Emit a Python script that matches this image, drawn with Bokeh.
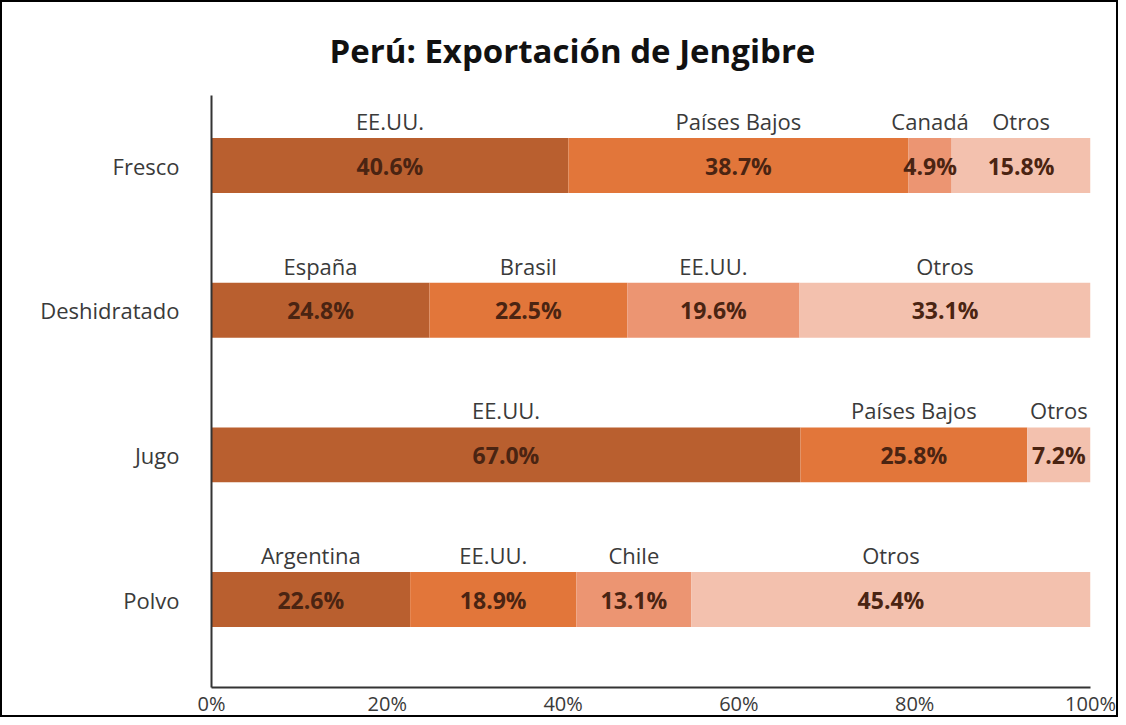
from bokeh.plotting import figure
from bokeh.models import ColumnDataSource, FixedTicker, Range1d, NumeralTickFormatter, Title
from bokeh.core.properties import value
from bokeh.embed import file_html
from bokeh.resources import INLINE

categories = ["Fresco", "Deshidratado", "Jugo", "Polvo"]
fresco_paises = ["EE.UU.", "Países Bajos", "Canadá", "Otros"]
fresco_pct = [40.6, 38.7, 4.9, 15.8]
deshidratado_paises = ["España", "Brasil", "EE.UU.", "Otros"]
deshidratado_pct = [24.8, 22.5, 19.6, 33.1]
jugo_paises = ["EE.UU.", "Países Bajos", "Otros"]
jugo_pct = [67.0, 25.8, 7.2]
polvo_paises = ["Argentina", "EE.UU.", "Chile", "Otros"]
polvo_pct = [22.6, 18.9, 13.1, 45.4]
x_ticks = [0, 0.2, 0.4, 0.6, 0.8, 1.0]

palette = ["#B95F2F", "#E2763A", "#EC9572", "#F3C1AE"]
FONT = "Open Sans"

series = [(fresco_paises, fresco_pct), (deshidratado_paises, deshidratado_pct),
          (jugo_paises, jugo_pct), (polvo_paises, polvo_pct)]
ypos = {c: len(categories) - 1 - i for i, c in enumerate(categories)}
BAR_H = 0.38

rows = dict(y=[], left=[], right=[], mid=[], top=[], color=[], pais=[], pct=[])
for cat, (paises, pcts) in zip(categories, series):
    acc = 0.0
    for j, (pa, pc) in enumerate(zip(paises, pcts)):
        l = acc / 100.0
        r = (acc + pc) / 100.0
        acc += pc
        rows["y"].append(ypos[cat])
        rows["left"].append(l)
        rows["right"].append(r)
        rows["mid"].append((l + r) / 2)
        rows["top"].append(ypos[cat] + BAR_H / 2)
        rows["color"].append(palette[3] if pa == "Otros" else palette[j])
        rows["pais"].append(pa)
        rows["pct"].append(f"{pc:.1f}%")
src = ColumnDataSource(rows)

p = figure(width=1118, height=717, output_backend="svg", toolbar_location=None,
           x_range=Range1d(0, 1), y_range=Range1d(-0.608, 3.484),
           min_border_left=209, min_border_right=30, min_border_top=93, min_border_bottom=10)
p.styles = {"border": "2px solid #000", "box-sizing": "border-box"}

p.hbar(y="y", left="left", right="right", height=BAR_H, color="color", line_color=None, source=src)
p.text(x="mid", y="top", text="pais", source=src, text_align="center", text_baseline="bottom",
       y_offset=-2, text_font=value(FONT), text_font_size="22px", text_color="#3a3a3a")
p.text(x="mid", y="y", text="pct", source=src, text_align="center", text_baseline="middle",
       text_font=value(FONT), text_font_size="23px", text_font_style="bold", text_color="#4a2412")

title = Title(text="Perú: Exportación de Jengibre", align="left", offset=118,
              text_font=FONT, text_font_size="33px", text_font_style="bold", text_color="#111111",
              standoff=46)
p.add_layout(title, "above")

p.xgrid.visible = False
p.ygrid.visible = False
p.outline_line_color = None

for ax in (p.xaxis, p.yaxis):
    ax.major_tick_line_color = None
    ax.minor_tick_line_color = None
    ax.major_tick_out = 0
    ax.major_tick_in = 0
    ax.minor_tick_out = 0
    ax.axis_label_standoff = 0
    ax.axis_line_color = "#333333"
    ax.axis_line_width = 2
    ax.major_label_text_font = FONT
    ax.major_label_text_color = "#3a3a3a"

p.xaxis.ticker = FixedTicker(ticks=x_ticks)
p.xaxis.formatter = NumeralTickFormatter(format="0%")
p.xaxis.major_label_text_font_size = "20px"
p.xaxis.major_label_standoff = 2

p.yaxis.ticker = FixedTicker(ticks=[ypos[c] for c in categories])
p.yaxis.major_label_overrides = {ypos[c]: c for c in categories}
p.yaxis.major_label_text_font_size = "22px"
p.yaxis.major_label_standoff = 32

open("out.html", "w").write(file_html(p, INLINE))
